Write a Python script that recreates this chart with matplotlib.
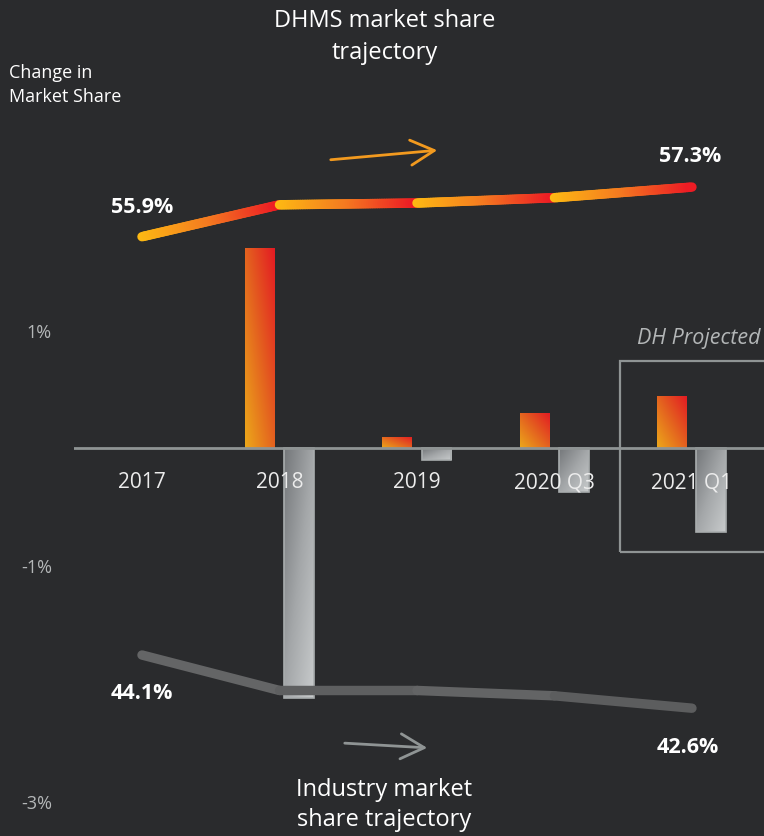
import numpy as np
import matplotlib
matplotlib.use('Agg')
import matplotlib.pyplot as plt
from matplotlib.collections import LineCollection
from matplotlib.colors import LinearSegmentedColormap
from matplotlib.patches import Rectangle, FancyArrowPatch

categories = ['2017', '2018', '2019', '2020 Q3', '2021 Q1']
dh_change = [0.0, 1.70, 0.10, 0.30, 0.45]
ind_change = [0.0, -2.12, -0.10, -0.37, -0.71]
dh_share = [55.9, 56.8, 56.85, 57.0, 57.3]
ind_share = [44.1, 43.1, 43.1, 42.95, 42.6]
yticks = [1, -1, -3]
ytick_labels = ['1%', '-1%', '-3%']

bg = '#2a2b2d'
plt.rcParams['font.family'] = ['Open Sans', 'DejaVu Sans']

fig = plt.figure(figsize=(7.64, 8.36), dpi=100, facecolor=bg)
ax = fig.add_axes([74/764, 0, 1 - 74/764, 1], facecolor=bg)
ax.set_xlim(-0.4945, 4.524)
ax.set_ylim(-3.291, 3.809)
for s in ax.spines.values():
    s.set_visible(False)
ax.set_xticks([])
ax.set_yticks(yticks)
ax.set_yticklabels(ytick_labels, color='#b4b7b8', fontsize=13)
ax.tick_params(axis='y', length=0, pad=16)

orange_cmap = LinearSegmentedColormap.from_list('o', ['#eca81a', '#e4621f', '#e31a23'])
grey_cmap = LinearSegmentedColormap.from_list('g', ['#74777a', '#a4a7a9', '#c8cbcc'])
line_cmap = LinearSegmentedColormap.from_list('l', ['#fdb913', '#f47b20', '#ed1c24'])

def gradient_bar(x, h, w, cmap, flip):
    if h == 0:
        return
    y0 = min(0, h)
    rect = Rectangle((x - w/2, y0), w, abs(h), facecolor='none', edgecolor='none')
    ax.add_patch(rect)
    u, v = np.meshgrid(np.linspace(0, 1, 50), np.linspace(0, 1, 200))
    if flip:
        z = 0.5 * (u + (1 - v))
    else:
        z = 0.5 * (u + v)
    im = ax.imshow(z, cmap=cmap, origin='lower', aspect='auto',
                   extent=(x - w/2, x + w/2, y0, y0 + abs(h)), zorder=2,
                   vmin=0, vmax=1)
    im.set_clip_path(rect)
    if flip:
        ax.add_patch(Rectangle((x - w/2, y0), w, abs(h), facecolor='none',
                               edgecolor='#a9adae', lw=1.2, zorder=2.5))

w = 0.218
off = 0.142
for i in range(len(categories)):
    gradient_bar(i - off, dh_change[i], w, orange_cmap, False)
    gradient_bar(i + off, ind_change[i], w, grey_cmap, True)

ax.axhline(0, color='#8f9494', lw=2, zorder=3)

for i, c in enumerate(categories):
    ax.text(i, -0.29, c, ha='center', va='center', color='#ececec', fontsize=15, zorder=4)

# projected box
ax.add_patch(Rectangle((3.476, -0.879), 1.2, 0.743 + 0.879, facecolor='none',
                       edgecolor='#8f9494', lw=1.6, zorder=3, clip_on=False))
ax.text(4.497, 0.935, 'DH Projected', ha='right', va='center', color='#b3b6b7',
        fontsize=15.5, style='italic')

# share lines on twin axis
ax2 = ax.twinx()
ax2.set_ylim(38.995, 62.577)
ax2.set_xlim(ax.get_xlim())
ax2.axis('off')

xs = np.arange(len(categories))
for i in range(len(xs) - 1):
    t = np.linspace(0, 1, 60)
    px = xs[i] + t * (xs[i+1] - xs[i])
    py = dh_share[i] + t * (dh_share[i+1] - dh_share[i])
    pts = np.array([px, py]).T.reshape(-1, 1, 2)
    segs = np.concatenate([pts[:-1], pts[1:]], axis=1)
    lc = LineCollection(segs, cmap=line_cmap, linewidths=6.8, capstyle='round', zorder=5)
    lc.set_array(t[:-1])
    ax2.add_collection(lc)

grey_shades = ['#646566', '#5e5f60', '#636465', '#5c5d5e']
for i in range(len(xs) - 1):
    ax2.plot(xs[i:i+2], ind_share[i:i+2], color=grey_shades[i], lw=6.8,
             solid_capstyle='round', zorder=5)

lab = dict(ha='center', va='center', color='white', fontsize=15.5, fontweight='bold',
           textcoords='offset points')
ax2.annotate(f'{dh_share[0]}%', (xs[0], dh_share[0]), xytext=(0, 21), **lab)
ax2.annotate(f'{dh_share[-1]}%', (xs[-1], dh_share[-1]), xytext=(-1, 22), **lab)
ax2.annotate(f'{ind_share[0]}%', (xs[0], ind_share[0]), xytext=(0, -28), **lab)
ax2.annotate(f'{ind_share[-1]}%', (xs[-1], ind_share[-1]), xytext=(-3, -28), **lab)

# titles and arrows
fig.text(385/764, 1 - 37/836, 'DHMS market share\ntrajectory', ha='center', va='center',
         color='white', fontsize=17, linespacing=1.4)
fig.text(384/764, 1 - 805/836, 'Industry market\nshare trajectory', ha='center', va='center',
         color='white', fontsize=17, linespacing=1.35)
fig.text(9/764, 1 - 85/836, 'Change in\nMarket Share', ha='left', va='center',
         color='white', fontsize=13, linespacing=1.5)

fig.add_artist(FancyArrowPatch(
    (328/764, 1 - 160/836), (440/764, 1 - 150/836), transform=fig.transFigure,
    arrowstyle='->,head_length=17,head_width=9', color='#f29a1f', lw=2))
fig.add_artist(FancyArrowPatch(
    (342/764, 1 - 743/836), (430/764, 1 - 748/836), transform=fig.transFigure,
    arrowstyle='->,head_length=17,head_width=9', color='#8f9494', lw=2))

fig.savefig('out.png', dpi=100, facecolor=bg)
